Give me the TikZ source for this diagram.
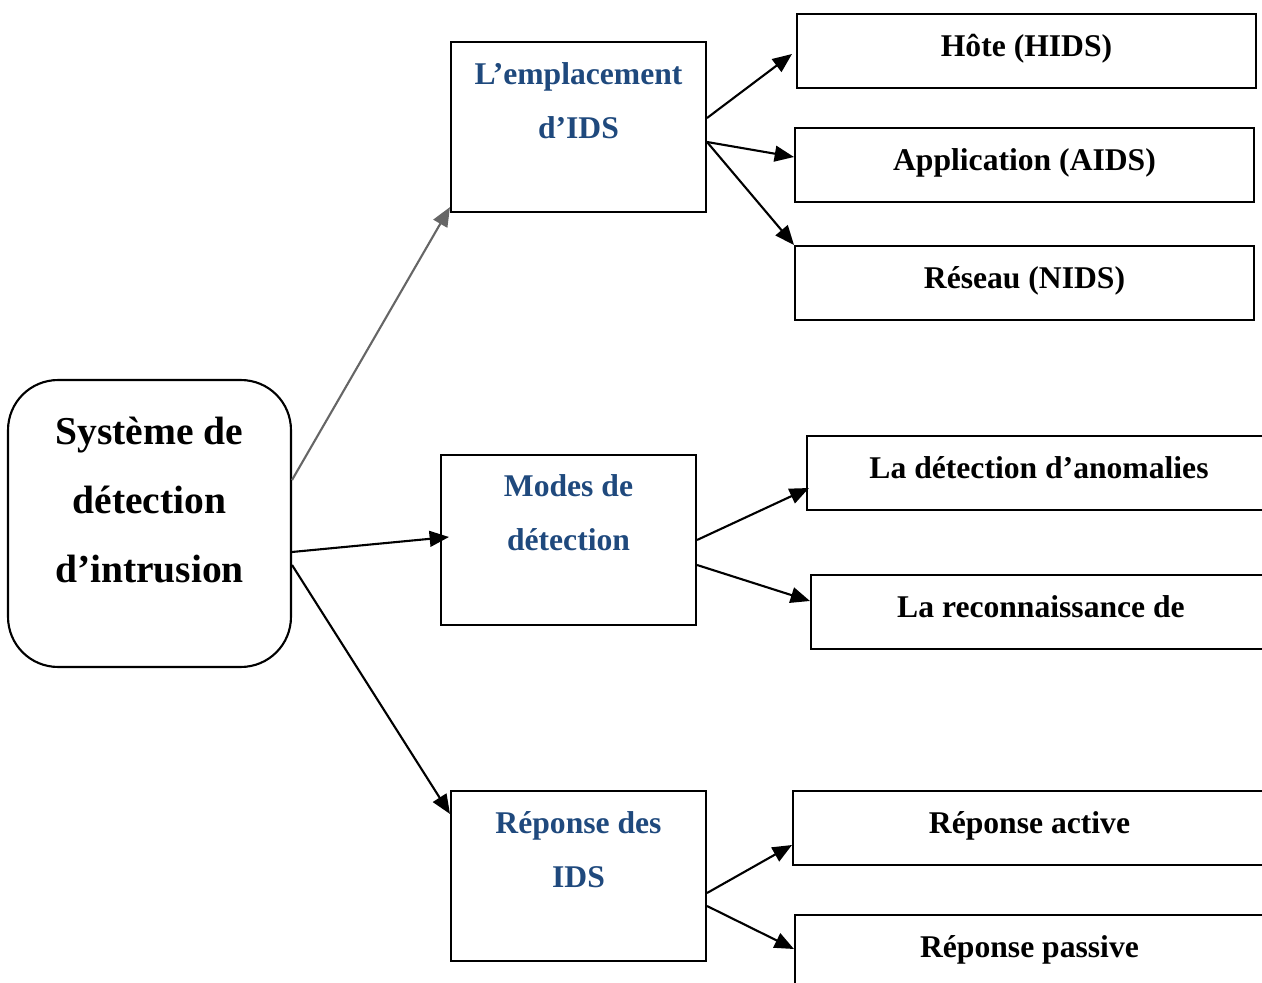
\documentclass[tikz,border=0pt]{standalone}
\usepackage{fontspec}
\setmainfont{Liberation Serif}
\usetikzlibrary{arrows.meta}
\definecolor{idsblue}{RGB}{31,73,125}

\begin{document}
\begin{tikzpicture}[x=0.02cm, y=-0.02cm, line width=1.2pt,
            box/.style={draw, rectangle, inner sep=0pt},
            midbox/.style={box, minimum width=5.1cm, minimum height=3.4cm},
            leafbox/.style={box, minimum height=1.48cm, font=\fontsize{18}{20}\selectfont\bfseries,
                text height=13pt, text depth=7pt},
            midtext/.style={align=center, text=idsblue, font=\fontsize{18}{31}\selectfont\bfseries},
            arr/.style={-{Triangle[length=11pt, width=9pt]}},
            grayarr/.style={arr, draw=black!60, fill=black!60}]
            \clip (0,0) rectangle (1262,983);

            \node[box, rounded corners=1cm, minimum width=5.66cm, minimum height=5.74cm] (main) at (149.5,523.5) {};
            \node[align=center, font=\fontsize{22.5}{39}\selectfont\bfseries] (maintext)
                at ([yshift=0.47cm]main.center) {Système de\\détection\\d’intrusion};

            \node[midbox] (loc)   at (578.5,127) {};
            \node[midbox] (modes) at (568.5,540) {};
            \node[midbox] (rep)   at (578.5,876) {};
            \node[midtext] (loctext)   at ([yshift=-1.19cm]loc.north)   {L’emplacement\\d’IDS};
            \node[midtext] (modestext) at ([yshift=-1.17cm]modes.north) {Modes de\\détection};
            \node[midtext] (reptext)   at ([yshift=-1.19cm]rep.north)   {Réponse des\\IDS};

            \node[leafbox, minimum width=9.18cm] (hote)    at (1026.5,51)  {Hôte (HIDS)};
            \node[leafbox, minimum width=9.18cm] (app)     at (1024.5,165) {Application (AIDS)};
            \node[leafbox, minimum width=9.18cm] (res)     at (1024.5,283) {Réseau (NIDS)};
            \node[leafbox, minimum width=9.28cm] (anom)    at (1039,473)   {La détection d’anomalies};
            \node[leafbox, minimum width=9.2cm]  (reco)    at (1041,612)   {La reconnaissance de};
            \node[leafbox, minimum width=9.46cm] (active)  at (1029.5,828) {Réponse active};
            \node[leafbox, minimum width=9.38cm] (passive) at (1029.5,952) {Réponse passive};

            \draw[grayarr] ([yshift=0.87cm]main.east) -- ([yshift=0.12cm]loc.south west);
            \draw[arr] ([yshift=-0.57cm]main.east) -- ([xshift=0.18cm, yshift=0.06cm]modes.west);
            \draw[arr] ([yshift=-0.83cm]main.east) -- ([yshift=-0.48cm]rep.north west);

            \draw[arr] ([yshift=0.18cm]loc.east) -- ([xshift=-0.08cm, yshift=-0.06cm]hote.west);
            \draw[arr] ([yshift=-0.3cm]loc.east) -- ([yshift=0.16cm]app.west);
            \draw[arr] ([yshift=-0.3cm]loc.east) -- (res.north west);

            \draw[arr] (modes.east) -- ([xshift=0.06cm, yshift=-0.3cm]anom.west);
            \draw[arr] ([yshift=-0.5cm]modes.east) -- ([yshift=0.22cm]reco.west);

            \draw[arr] ([yshift=-0.34cm]rep.east) -- ([yshift=-0.34cm]active.west);
            \draw[arr] ([yshift=-0.6cm]rep.east) -- ([yshift=0.06cm]passive.west);
\end{tikzpicture}
\end{document}
